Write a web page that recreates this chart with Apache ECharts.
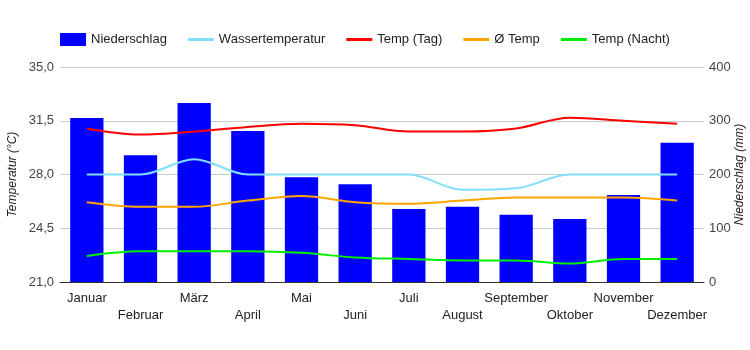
<!DOCTYPE html>
<html>
<head>
<meta charset="utf-8">
<script src="https://cdn.jsdelivr.net/npm/echarts@6/dist/echarts.min.js"></script>
<style>
  html, body { margin: 0; padding: 0; background: #fff; }
  #chart { width: 750px; height: 350px; }
</style>
</head>
<body>
<div id="chart"></div>
<script>
const months = ["Januar", "Februar", "März", "April", "Mai", "Juni", "Juli", "August", "September", "Oktober", "November", "Dezember"];
const niederschlag = [305, 236, 333, 281, 195, 182, 136, 140, 125, 117, 162, 259];
const wasserTemp = [28.0, 28.0, 29.0, 28.0, 28.0, 28.0, 28.0, 27.0, 27.1, 28.0, 28.0, 28.0];
const tempTag = [31.0, 30.6, 30.8, 31.1, 31.3, 31.2, 30.8, 30.8, 31.0, 31.7, 31.5, 31.3];
const tempAvg = [26.2, 25.9, 25.9, 26.3, 26.6, 26.2, 26.1, 26.3, 26.5, 26.5, 26.5, 26.3];
const tempNacht = [22.7, 23.0, 23.0, 23.0, 22.9, 22.6, 22.5, 22.4, 22.4, 22.2, 22.5, 22.5];

const font = "Liberation Sans, Arial, sans-serif";
const lineIcon = "path://M0,0H26V3H0Z";
const chart = echarts.init(document.getElementById("chart"));

// Linien-Serie mit gemeinsamen Einstellungen
function lineSeries(name, data, color) {
  return {
    name,
    type: "line",
    data,
    smooth: 0.35,
    symbol: "none",
    lineStyle: { color, width: 2 },
    itemStyle: { color },
    z: 3
  };
}

const axisNameStyle = {
  fontStyle: "italic",
  fontSize: 12,
  color: "#222",
  align: "center",
  verticalAlign: "middle"
};

chart.setOption({
  animation: false,
  textStyle: { fontFamily: font },
  legend: {
    top: 28,
    left: 55,
    itemGap: 21,
    itemWidth: 26,
    itemHeight: 13,
    symbolKeepAspect: true,
    textStyle: { fontSize: 13, color: "#222", fontFamily: font },
    data: [
      { name: "Niederschlag", icon: "rect" },
      { name: "Wassertemperatur", icon: lineIcon },
      { name: "Temp (Tag)", icon: lineIcon },
      { name: "Ø Temp", icon: lineIcon },
      { name: "Temp (Nacht)", icon: lineIcon }
    ]
  },
  grid: { left: 60, right: 46, top: 67, bottom: 68, outerBoundsMode: "none", containLabel: false },
  xAxis: {
    type: "category",
    data: months,
    axisTick: { show: false },
    axisLine: { lineStyle: { color: "#333" } },
    axisLabel: {
      interval: 0,
      color: "#222",
      fontSize: 13,
      lineHeight: 17,
      margin: 8,
      formatter: (v, i) => (i % 2 ? "\n" + v : v)
    }
  },
  yAxis: [
    {
      type: "value",
      min: 21,
      max: 35,
      interval: 3.5,
      name: "Temperatur (°C)",
      nameLocation: "middle",
      nameGap: 47,
      nameMoveOverlap: false,
      nameTextStyle: axisNameStyle,
      axisLabel: {
        color: "#444",
        fontSize: 13,
        margin: 6,
        formatter: v => v.toFixed(1).replace(".", ",")
      },
      splitLine: { lineStyle: { color: "#ccc" } }
    },
    {
      type: "value",
      min: 0,
      max: 400,
      interval: 100,
      name: "Niederschlag (mm)",
      nameLocation: "middle",
      nameGap: 36,
      nameRotate: 90,
      nameMoveOverlap: false,
      nameTextStyle: axisNameStyle,
      axisLabel: { color: "#444", fontSize: 13, margin: 5 },
      splitLine: { show: false }
    }
  ],
  series: [
    {
      name: "Niederschlag",
      type: "bar",
      yAxisIndex: 1,
      data: niederschlag,
      barWidth: "62%",
      itemStyle: { color: "#0000ff" },
      z: 2
    },
    lineSeries("Wassertemperatur", wasserTemp, "#80dfff"),
    lineSeries("Temp (Tag)", tempTag, "#ff0000"),
    lineSeries("Ø Temp", tempAvg, "#ffa500"),
    lineSeries("Temp (Nacht)", tempNacht, "#00ee00")
  ]
});
</script>
</body>
</html>
